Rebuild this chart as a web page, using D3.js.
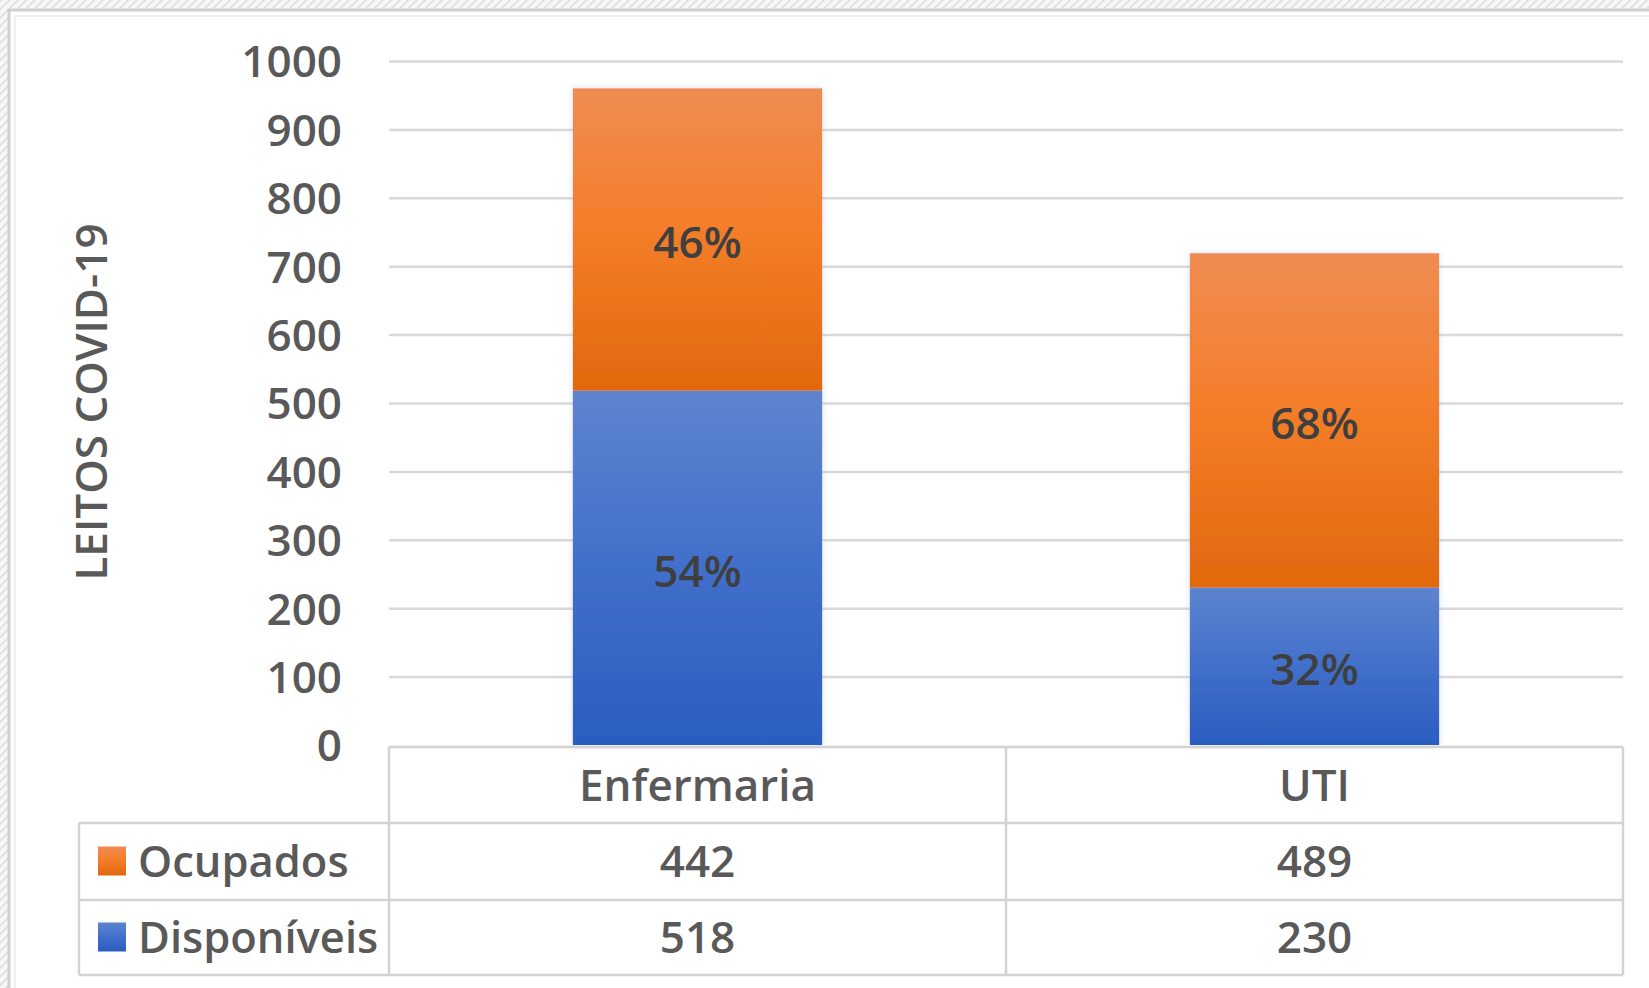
<!DOCTYPE html>
<html>
<head>
<meta charset="utf-8">
<script src="https://cdn.jsdelivr.net/npm/d3@7"></script>
<style>
  html, body { margin: 0; padding: 0; background: #fff; }
  svg { display: block; }
  text { font-family: "Open Sans", "Noto Sans", sans-serif; }
</style>
</head>
<body>
<svg id="chart" width="1649" height="988"></svg>
<script>
// ---- data ----
const categories = ["Enfermaria", "UTI"];
const seriesNames = ["Disponíveis", "Ocupados"];
const disponiveis = [518, 230];
const ocupados = [442, 489];
const pctDisponiveis = ["54%", "32%"];
const pctOcupados = ["46%", "68%"];
const yTicks = [0, 100, 200, 300, 400, 500, 600, 700, 800, 900, 1000];
const yTitle = "LEITOS COVID-19";

// ---- layout ----
const W = 1649, H = 988;
const plot = { left: 389, right: 1623, top: 61, bottom: 745 };
const table = { legendLeft: 79, headerTop: 747, row1: 823, row2: 900, bottom: 975 };
const textColor = "#595959";
const gridColor = "#D9D9D9";
const tableLine = "#D3D3D3";

const svg = d3.select("#chart");
const defs = svg.append("defs");

// background hatch
const pat = defs.append("pattern").attr("id", "hatch").attr("patternUnits", "userSpaceOnUse")
  .attr("width", 6).attr("height", 6).attr("patternTransform", "rotate(45)");
pat.append("rect").attr("width", 6).attr("height", 6).attr("fill", "#f7f7f7");
pat.append("line").attr("x1", 0).attr("y1", 0).attr("x2", 0).attr("y2", 6)
  .attr("stroke", "#d6d6d6").attr("stroke-width", 2.5);
svg.append("rect").attr("width", W).attr("height", H).attr("fill", "url(#hatch)");

// chart frame
svg.append("rect").attr("x", 9).attr("y", 10).attr("width", W + 20).attr("height", H + 20)
  .attr("fill", "#fff").attr("stroke", "#cfcfcf").attr("stroke-width", 3);
svg.append("rect").attr("x", 15).attr("y", 16).attr("width", W + 20).attr("height", H + 20)
  .attr("fill", "none").attr("stroke", "#efefef").attr("stroke-width", 2);

// gradients
function grad(id, stops) {
  const g = defs.append("linearGradient").attr("id", id)
    .attr("x1", 0).attr("y1", 0).attr("x2", 0).attr("y2", 1);
  stops.forEach(([o, c]) => g.append("stop").attr("offset", o).attr("stop-color", c));
}
grad("gOcup", [["0%", "#EF8C52"], ["45%", "#F47E2A"], ["100%", "#E2680E"]]);
grad("gDisp", [["0%", "#5E84CF"], ["50%", "#416FCA"], ["100%", "#2B5DC1"]]);
const fills = { "Disponíveis": "url(#gDisp)", "Ocupados": "url(#gOcup)" };

const shadow = defs.append("filter").attr("id", "shadow")
  .attr("x", "-10%").attr("y", "-10%").attr("width", "120%").attr("height", "120%");
shadow.append("feDropShadow").attr("dx", 0).attr("dy", 0).attr("stdDeviation", 3)
  .attr("flood-color", "#9fb3d9").attr("flood-opacity", 0.45);

// scales
const x = d3.scaleBand().domain(categories).range([plot.left, plot.right])
  .paddingInner(0.596).paddingOuter(0.298);
const y = d3.scaleLinear().domain([0, 1000]).range([plot.bottom, plot.top]);

// gridlines
const grid = svg.append("g").attr("transform", `translate(${plot.left},0)`)
  .call(d3.axisLeft(y).tickValues(yTicks.filter(t => t > 0)).tickSize(-(plot.right - plot.left)).tickFormat(""));
grid.select(".domain").remove();
grid.selectAll("line").attr("stroke", gridColor).attr("stroke-width", 2.5);

// y axis labels
const yAx = svg.append("g").attr("transform", `translate(${plot.left},0)`)
  .call(d3.axisLeft(y).tickValues(yTicks).tickSize(0).tickPadding(47).tickFormat(d3.format("d")));
yAx.select(".domain").remove();
yAx.selectAll("text").attr("fill", textColor).style("font-size", "44px").style("font-weight", 600)
  .attr("dy", "0.36em");

// y title
svg.append("text").attr("transform", `translate(107,402) rotate(-90)`)
  .attr("text-anchor", "middle").attr("fill", textColor)
  .style("font-size", "44px").style("font-weight", 600).text(yTitle);

// stacked bars
const rows = categories.map((c, i) => ({ cat: c, "Disponíveis": disponiveis[i], "Ocupados": ocupados[i] }));
const stack = d3.stack().keys(seriesNames)(rows);
const pctLabels = { "Disponíveis": pctDisponiveis, "Ocupados": pctOcupados };

const barG = svg.append("g").attr("filter", "url(#shadow)");
stack.forEach(layer => {
  barG.selectAll(null).data(layer).enter().append("rect")
    .attr("x", d => x(d.data.cat))
    .attr("width", x.bandwidth())
    .attr("y", d => y(d[1]))
    .attr("height", d => y(d[0]) - y(d[1]))
    .attr("fill", fills[layer.key]);
});
stack.forEach(layer => {
  svg.append("g").selectAll("text").data(layer).enter().append("text")
    .attr("x", d => x(d.data.cat) + x.bandwidth() / 2)
    .attr("y", d => (y(d[0]) + y(d[1])) / 2 + 3)
    .attr("dy", "0.36em")
    .attr("text-anchor", "middle")
    .attr("fill", "#3f3f3f")
    .style("font-size", "44px").style("font-weight", 600)
    .text((d, i) => pctLabels[layer.key][i]);
});

// data table
const tg = svg.append("g");
const hline = (x1, x2, yy) => tg.append("line").attr("x1", x1).attr("x2", x2).attr("y1", yy).attr("y2", yy)
  .attr("stroke", tableLine).attr("stroke-width", 2.5);
const vline = (xx, y1, y2) => tg.append("line").attr("x1", xx).attr("x2", xx).attr("y1", y1).attr("y2", y2)
  .attr("stroke", tableLine).attr("stroke-width", 2.5);
hline(plot.left, plot.right, table.headerTop);
hline(table.legendLeft, plot.right, table.row1);
hline(table.legendLeft, plot.right, table.row2);
hline(table.legendLeft, plot.right, table.bottom);
vline(table.legendLeft, table.row1, table.bottom);
vline(plot.left, table.headerTop, table.bottom);
categories.forEach((c, i) => {
  vline(x(c) + x.bandwidth() / 2 + x.step() / 2, table.headerTop, table.bottom);
});

// header row: categories
tg.selectAll("text.cat").data(categories).enter().append("text")
  .attr("class", "cat")
  .attr("x", d => x(d) + x.bandwidth() / 2)
  .attr("y", (table.headerTop + table.row1) / 2)
  .attr("dy", "0.36em").attr("text-anchor", "middle").attr("fill", textColor)
  .style("font-size", "44px").style("font-weight", 600).text(d => d);

// legend rows
const tableRows = [
  { name: "Ocupados", vals: ocupados, fill: "url(#gOcup)", y0: table.row1, y1: table.row2 },
  { name: "Disponíveis", vals: disponiveis, fill: "url(#gDisp)", y0: table.row2, y1: table.bottom }
];
tableRows.forEach(r => {
  const cy = (r.y0 + r.y1) / 2;
  tg.append("rect").attr("x", 98).attr("y", cy - 15).attr("width", 28).attr("height", 29).attr("fill", r.fill);
  tg.append("text").attr("x", 138).attr("y", cy).attr("dy", "0.36em").attr("fill", textColor)
    .style("font-size", "43.5px").style("font-weight", 600).text(r.name);
  tg.selectAll(null).data(r.vals).enter().append("text")
    .attr("x", (d, i) => x(categories[i]) + x.bandwidth() / 2)
    .attr("y", cy).attr("dy", "0.36em").attr("text-anchor", "middle").attr("fill", textColor)
    .style("font-size", "44px").style("font-weight", 600).text(d => d);
});
</script>
</body>
</html>
